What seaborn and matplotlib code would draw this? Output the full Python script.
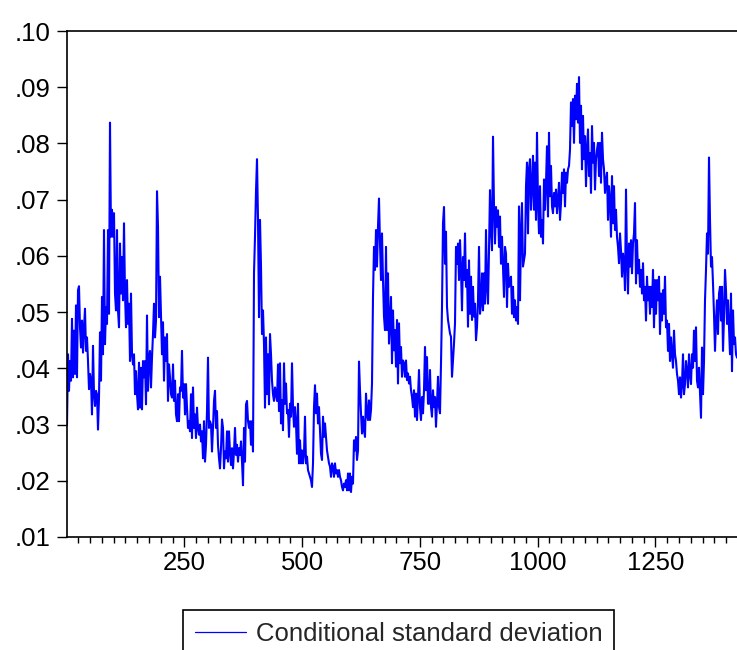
import numpy as np
import pandas as pd
import matplotlib
matplotlib.use("Agg")
import matplotlib.pyplot as plt
from matplotlib.lines import Line2D
from matplotlib.ticker import FixedLocator, MultipleLocator, FuncFormatter
import seaborn as sns

# conditional standard deviation (evenly spaced over the sample)
cond_sd = [
    0.0300, 0.0425, 0.0360, 0.0413, 0.0378, 0.0488, 0.0384, 0.0467, 0.0390, 0.0512,
    0.0384, 0.0539, 0.0546, 0.0473, 0.0437, 0.0485, 0.0428, 0.0473, 0.0506, 0.0431,
    0.0455, 0.0413, 0.0363, 0.0390, 0.0378, 0.0318, 0.0440, 0.0354, 0.0333, 0.0360,
    0.0354, 0.0291, 0.0348, 0.0464, 0.0378, 0.0527, 0.0425, 0.0646, 0.0443, 0.0509,
    0.0479, 0.0646, 0.0497, 0.0837, 0.0634, 0.0682, 0.0634, 0.0676, 0.0533, 0.0503,
    0.0646, 0.0503, 0.0473,
    0.0622, 0.0533, 0.0598, 0.0521, 0.0658, 0.0533, 0.0473, 0.0557, 0.0479, 0.0515,
    0.0413, 0.0533, 0.0425, 0.0407, 0.0425, 0.0354, 0.0395, 0.0354, 0.0327, 0.0410,
    0.0330, 0.0401, 0.0327, 0.0413, 0.0384, 0.0413, 0.0336, 0.0494, 0.0360, 0.0419,
    0.0431, 0.0366, 0.0419, 0.0461, 0.0515, 0.0455, 0.0485, 0.0715, 0.0652, 0.0491,
    0.0563, 0.0497, 0.0425, 0.0482, 0.0378, 0.0455, 0.0413, 0.0461, 0.0342, 0.0407,
    0.0384, 0.0354, 0.0348, 0.0407, 0.0342, 0.0378, 0.0318, 0.0306, 0.0354, 0.0306,
    0.0366, 0.0360, 0.0431, 0.0348, 0.0372, 0.0318, 0.0372, 0.0330, 0.0294, 0.0306,
    0.0288, 0.0354, 0.0276, 0.0366, 0.0294, 0.0318, 0.0276, 0.0330, 0.0294, 0.0282,
    0.0300, 0.0270, 0.0288, 0.0240, 0.0306, 0.0234, 0.0264, 0.0324, 0.0419, 0.0294,
    0.0306, 0.0300, 0.0252, 0.0294, 0.0342, 0.0360, 0.0294, 0.0324, 0.0264, 0.0240,
    0.0222, 0.0258, 0.0309, 0.0294, 0.0222, 0.0252, 0.0240, 0.0288, 0.0234, 0.0288,
    0.0252, 0.0228, 0.0258, 0.0222, 0.0252, 0.0294, 0.0246, 0.0264, 0.0234, 0.0258,
    0.0246, 0.0270, 0.0234, 0.0192, 0.0294, 0.0234, 0.0336, 0.0342, 0.0306, 0.0294,
    0.0306, 0.0264, 0.0306, 0.0252, 0.0569, 0.0634, 0.0715, 0.0772, 0.0664, 0.0491,
    0.0664, 0.0581, 0.0461, 0.0503, 0.0443, 0.0330, 0.0455, 0.0354, 0.0425, 0.0336,
    0.0461, 0.0425, 0.0378, 0.0354, 0.0342, 0.0366, 0.0354, 0.0342, 0.0407, 0.0324,
    0.0409, 0.0302, 0.0343, 0.0290, 0.0409, 0.0337, 0.0373, 0.0320, 0.0326, 0.0278,
    0.0337, 0.0314, 0.0409, 0.0331, 0.0296, 0.0331, 0.0302, 0.0248, 0.0337, 0.0231,
    0.0272, 0.0231, 0.0254, 0.0231, 0.0248, 0.0314, 0.0231, 0.0243, 0.0219, 0.0213,
    0.0207, 0.0201, 0.0189, 0.0231, 0.0331, 0.0370, 0.0320, 0.0355, 0.0302, 0.0331,
    0.0290, 0.0248, 0.0237, 0.0314, 0.0278, 0.0302, 0.0278, 0.0254, 0.0243, 0.0231,
    0.0225, 0.0207, 0.0231, 0.0225, 0.0207, 0.0231, 0.0213, 0.0219, 0.0207, 0.0219,
    0.0207, 0.0201, 0.0189, 0.0183, 0.0195, 0.0189, 0.0201, 0.0183, 0.0213, 0.0183,
    0.0213, 0.0180, 0.0207, 0.0195, 0.0272, 0.0254, 0.0278, 0.0237, 0.0254, 0.0412,
    0.0361, 0.0320, 0.0284, 0.0314, 0.0290, 0.0278, 0.0355, 0.0320, 0.0308, 0.0343,
    0.0308, 0.0326, 0.0373, 0.0527, 0.0616, 0.0575, 0.0646, 0.0581, 0.0652, 0.0702,
    0.0622, 0.0557, 0.0640, 0.0557, 0.0492, 0.0468, 0.0616, 0.0468, 0.0569, 0.0444,
    0.0480, 0.0527, 0.0409, 0.0503, 0.0432, 0.0468, 0.0403, 0.0486, 0.0373, 0.0480,
    0.0409, 0.0438, 0.0385, 0.0414, 0.0409, 0.0385, 0.0414, 0.0379, 0.0391, 0.0373,
    0.0385, 0.0361, 0.0349, 0.0331, 0.0361, 0.0314, 0.0355, 0.0308, 0.0349, 0.0397,
    0.0331, 0.0308, 0.0349, 0.0320, 0.0361, 0.0438, 0.0361, 0.0420, 0.0337, 0.0337,
    0.0397, 0.0331, 0.0314, 0.0361, 0.0331, 0.0349, 0.0296, 0.0337, 0.0385, 0.0331,
    0.0320, 0.0409, 0.0509, 0.0658, 0.0687, 0.0586, 0.0643, 0.0509, 0.0486, 0.0474,
    0.0462, 0.0456, 0.0385, 0.0414, 0.0444, 0.0480, 0.0616, 0.0586, 0.0622, 0.0557,
    0.0628, 0.0575, 0.0503, 0.0598, 0.0557, 0.0640, 0.0545, 0.0575, 0.0474, 0.0592,
    0.0497, 0.0563, 0.0486, 0.0545, 0.0492, 0.0515, 0.0450, 0.0474, 0.0521, 0.0616,
    0.0497, 0.0515, 0.0569, 0.0503, 0.0569, 0.0515, 0.0646, 0.0545, 0.0515, 0.0610,
    0.0717, 0.0646, 0.0610, 0.0812, 0.0687, 0.0622, 0.0687, 0.0652, 0.0681, 0.0616,
    0.0670, 0.0586, 0.0634, 0.0581, 0.0527, 0.0616, 0.0604, 0.0509, 0.0586, 0.0545, 0.0557,
    0.0563, 0.0497, 0.0545, 0.0491, 0.0521, 0.0485, 0.0509, 0.0479, 0.0688, 0.0521,
    0.0640, 0.0694, 0.0581, 0.0593, 0.0604, 0.0724, 0.0766, 0.0640, 0.0754, 0.0772,
    0.0682, 0.0724, 0.0778, 0.0682, 0.0766, 0.0664, 0.0819, 0.0694, 0.0640, 0.0724,
    0.0634, 0.0664, 0.0622, 0.0736, 0.0682, 0.0730, 0.0795, 0.0670, 0.0819, 0.0706,
    0.0760, 0.0688, 0.0676, 0.0712, 0.0688, 0.0718, 0.0676, 0.0700, 0.0730, 0.0664,
    0.0694, 0.0748, 0.0712, 0.0754, 0.0688, 0.0748, 0.0730, 0.0754, 0.0760, 0.0789,
    0.0873, 0.0831, 0.0879, 0.0801, 0.0885, 0.0843, 0.0906, 0.0837, 0.0918, 0.0801,
    0.0867, 0.0754, 0.0849, 0.0772, 0.0813, 0.0724, 0.0789, 0.0825, 0.0742, 0.0783,
    0.0712, 0.0831, 0.0766, 0.0801, 0.0718, 0.0772, 0.0789, 0.0801, 0.0742, 0.0801,
    0.0730, 0.0819, 0.0772, 0.0754, 0.0712, 0.0736, 0.0748, 0.0664, 0.0724, 0.0700,
    0.0634, 0.0742, 0.0658, 0.0724, 0.0646, 0.0682, 0.0634, 0.0616, 0.0587, 0.0640,
    0.0610, 0.0563, 0.0604, 0.0587, 0.0539, 0.0718, 0.0593, 0.0533, 0.0622, 0.0581,
    0.0628, 0.0569, 0.0622, 0.0640, 0.0694, 0.0551, 0.0628, 0.0569, 0.0593, 0.0545,
    0.0575, 0.0533, 0.0587, 0.0521, 0.0545, 0.0485, 0.0563, 0.0521, 0.0545, 0.0497,
    0.0545, 0.0509, 0.0575, 0.0473, 0.0557, 0.0497, 0.0557, 0.0521, 0.0563, 0.0461,
    0.0533, 0.0485, 0.0539, 0.0497, 0.0563, 0.0473, 0.0485, 0.0431, 0.0479, 0.0413,
    0.0455, 0.0425, 0.0401, 0.0467, 0.0425, 0.0413, 0.0390, 0.0378, 0.0354, 0.0384,
    0.0348, 0.0372, 0.0425, 0.0354, 0.0372, 0.0413, 0.0395, 0.0366, 0.0425, 0.0390,
    0.0372, 0.0425, 0.0401, 0.0467, 0.0413, 0.0473, 0.0378, 0.0366, 0.0401, 0.0354,
    0.0312, 0.0437, 0.0354, 0.0413, 0.0521, 0.0575, 0.0640, 0.0604, 0.0775, 0.0664,
    0.0581, 0.0598, 0.0551, 0.0497, 0.0431, 0.0485, 0.0521, 0.0461, 0.0533, 0.0545,
    0.0485, 0.0545, 0.0431, 0.0491, 0.0575, 0.0539, 0.0479, 0.0521, 0.0473, 0.0425,
    0.0533, 0.0395, 0.0503, 0.0443, 0.0455, 0.0425, 0.0419,
]
first_obs = 1
last_obs = 1423
x_major = [250, 500, 750, 1000, 1250]
y_ticks = [0.01, 0.02, 0.03, 0.04, 0.05, 0.06, 0.07, 0.08, 0.09, 0.10]
series_label = "Conditional standard deviation"

obs = np.linspace(first_obs, last_obs, len(cond_sd))
df = pd.DataFrame({"obs": obs, "sd": cond_sd})

sns.set_style("ticks")
plt.rcParams["font.family"] = ["Liberation Sans", "DejaVu Sans"]

fig = plt.figure(figsize=(7.37, 6.5), dpi=100)
ax = fig.add_axes([67 / 737, 113 / 650, 670 / 737, 506 / 650])

sns.lineplot(data=df, x="obs", y="sd", color="#0000ff", linewidth=1.5,
             ax=ax, legend=False)

ax.set_xlim(first_obs, last_obs)
ax.set_ylim(0.01, 0.10)
ax.set_xlabel("")
ax.set_ylabel("")

ax.xaxis.set_major_locator(FixedLocator(x_major))
ax.xaxis.set_minor_locator(MultipleLocator(25))
ax.yaxis.set_major_locator(FixedLocator(y_ticks))
ax.yaxis.set_major_formatter(FuncFormatter(lambda v, p: f"{v:.2f}".lstrip("0")))

ax.tick_params(axis="both", which="major", direction="out", length=7.5,
               width=1, color="black", labelsize=18.5, labelcolor="black")
ax.tick_params(axis="y", pad=4.5)
ax.tick_params(axis="x", which="major", pad=2.5)
ax.tick_params(axis="x", which="minor", direction="out", length=4, width=1,
               color="black")

for side in ["left", "bottom", "top"]:
    ax.spines[side].set_visible(True)
    ax.spines[side].set_linewidth(1.2)
    ax.spines[side].set_color("black")
ax.spines["right"].set_visible(False)

handle = Line2D([], [], color="#0000ff", linewidth=0.9)
leg = fig.legend(handles=[handle], labels=[series_label], loc="upper left",
                 bbox_to_anchor=(183 / 737, 1 - 610 / 650), borderaxespad=0,
                 fontsize=18.5, frameon=True, fancybox=False, shadow=False,
                 handlelength=2.0, handletextpad=0.4, borderpad=0.45)
leg.get_frame().set_edgecolor("black")
leg.get_frame().set_linewidth(1.2)
leg.get_frame().set_alpha(1)

fig.savefig("out.png", dpi=100)
